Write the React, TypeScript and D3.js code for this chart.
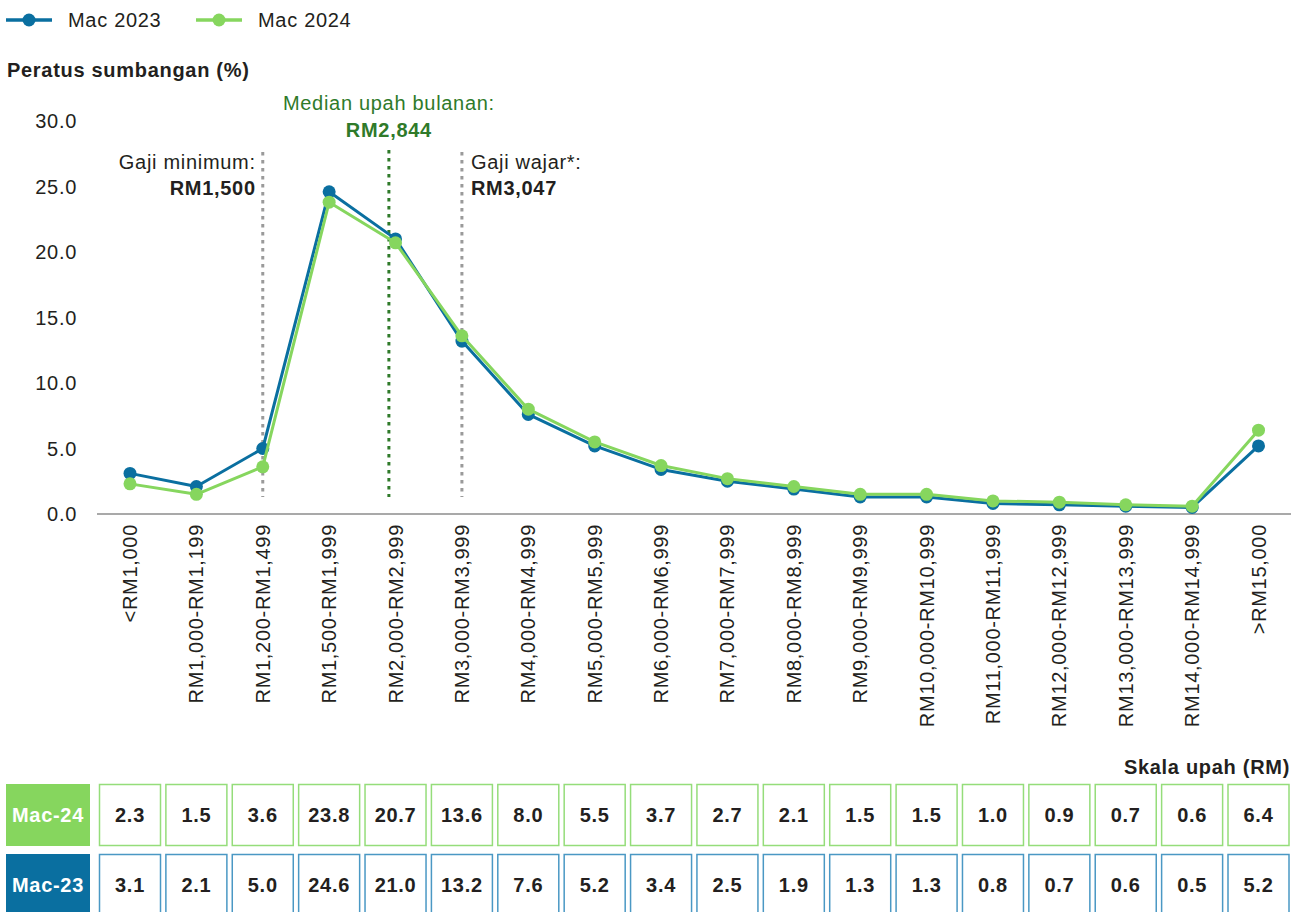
import React from "react";
import * as d3 from "d3";

const categories = [
  "<RM1,000", "RM1,000-RM1,199", "RM1,200-RM1,499", "RM1,500-RM1,999", "RM2,000-RM2,999",
  "RM3,000-RM3,999", "RM4,000-RM4,999", "RM5,000-RM5,999", "RM6,000-RM6,999", "RM7,000-RM7,999",
  "RM8,000-RM8,999", "RM9,000-RM9,999", "RM10,000-RM10,999", "RM11,000-RM11,999", "RM12,000-RM12,999",
  "RM13,000-RM13,999", "RM14,000-RM14,999", ">RM15,000",
];
const mac2024 = [2.3, 1.5, 3.6, 23.8, 20.7, 13.6, 8.0, 5.5, 3.7, 2.7, 2.1, 1.5, 1.5, 1.0, 0.9, 0.7, 0.6, 6.4];
const mac2023 = [3.1, 2.1, 5.0, 24.6, 21.0, 13.2, 7.6, 5.2, 3.4, 2.5, 1.9, 1.3, 1.3, 0.8, 0.7, 0.6, 0.5, 5.2];
const yTicks = [0, 5, 10, 15, 20, 25, 30];
const refLines = [
  { pos: 2, kind: "min", label: "Gaji minimum:", value: "RM1,500" },
  { pos: 3.9, kind: "median", label: "Median upah bulanan:", value: "RM2,844" },
  { pos: 5, kind: "wajar", label: "Gaji wajar*:", value: "RM3,047" },
];

const BLUE = "#0a6fa0";
const GREEN = "#86d65e";
const DARKGREEN = "#2f7a2a";
const TEXT = "#231f20";
const FONT = "'Liberation Sans', Arial, sans-serif";
const FS = 20;
const LS = 0.7;

export default function App() {
  const W = 1298, H = 912;
  const x = d3.scaleLinear().domain([0, categories.length - 1]).range([130, 1258.5]);
  const y = d3.scaleLinear().domain([0, 30]).range([514, 121]);
  const line = d3.line<number>().x((_, i) => x(i)).y((d) => y(d));

  const series = [
    { name: "Mac 2023", data: mac2023, color: BLUE },
    { name: "Mac 2024", data: mac2024, color: GREEN },
  ];

  const cellW = 61;
  const rows = [
    { label: "Mac-24", data: mac2024, fill: GREEN, border: "#95dd7a", top: 784 },
    { label: "Mac-23", data: mac2023, fill: BLUE, border: "#4a98c4", top: 854 },
  ];
  const rowH = 62;

  return (
    <svg width={W} height={H} style={{ position: "absolute", left: 0, top: 0, display: "block" }}
      fontFamily={FONT} fontSize={FS} letterSpacing={LS}>
      <rect width={W} height={H} fill="#fff" />
      {/* legend */}
      {series.map((s, i) => {
        const lx = 6 + i * 190;
        return (
          <g key={s.name}>
            <line x1={lx} x2={lx + 46} y1={20} y2={20} stroke={s.color} strokeWidth={3.5} />
            <circle cx={lx + 23} cy={20} r={6.5} fill={s.color} />
            <text x={lx + 62} y={27} fill={TEXT}>{s.name}</text>
          </g>
        );
      })}
      <text x={7} y={77} fontWeight="bold" fill={TEXT}>Peratus sumbangan (%)</text>

      {/* y ticks */}
      {yTicks.map((t) => (
        <text key={t} x={77} y={y(t) + 7} textAnchor="end" fill={TEXT}>{t.toFixed(1)}</text>
      ))}
      <line x1={97} x2={1291} y1={y(0)} y2={y(0)} stroke="#8c8c8c" strokeWidth={1.5} />

      {/* reference lines */}
      {refLines.map((r) => {
        const rx = x(r.pos);
        const isMed = r.kind === "median";
        return (
          <g key={r.kind}>
            <line x1={rx} x2={rx} y1={isMed ? 150 : 152} y2={497} stroke={isMed ? DARKGREEN : "#9a9a9a"}
              strokeWidth={3} strokeDasharray="3.5,4.5" />
            {isMed ? (
              <g>
                <text x={rx} y={110} textAnchor="middle" fill={DARKGREEN}>{r.label}</text>
                <text x={rx} y={137} fontWeight="bold" textAnchor="middle" fill={DARKGREEN}>{r.value}</text>
              </g>
            ) : r.kind === "min" ? (
              <g>
                <text x={rx - 7} y={169} textAnchor="end" fill={TEXT}>{r.label}</text>
                <text x={rx - 7} y={195} fontWeight="bold" textAnchor="end" fill={TEXT}>{r.value}</text>
              </g>
            ) : (
              <g>
                <text x={rx + 9} y={169} textAnchor="start" fill={TEXT}>{r.label}</text>
                <text x={rx + 9} y={195} fontWeight="bold" textAnchor="start" fill={TEXT}>{r.value}</text>
              </g>
            )}
          </g>
        );
      })}

      {/* series */}
      {series.map((s) => (
        <g key={s.name}>
          <path d={line(s.data) || ""} fill="none" stroke={s.color} strokeWidth={3} strokeLinejoin="round" />
          {s.data.map((v, i) => (
            <circle key={i} cx={x(i)} cy={y(v)} r={6.5} fill={s.color} />
          ))}
        </g>
      ))}

      {/* x labels */}
      {categories.map((c, i) => (
        <text key={c} transform={`translate(${x(i) + 7},${524}) rotate(-90)`}
          textAnchor="end" fill={TEXT}>{c}</text>
      ))}

      {/* table */}
      <text x={1290} y={774} fontWeight="bold" textAnchor="end" fill={TEXT}>Skala upah (RM)</text>
      {rows.map((r) => (
        <g key={r.label}>
          <rect x={6} y={r.top} width={84} height={rowH} fill={r.fill} />
          <text x={48} y={r.top + rowH / 2 + 7} fontWeight="bold" textAnchor="middle" fill="#fff">{r.label}</text>
          {r.data.map((v, i) => (
            <g key={i}>
              <rect x={x(i) - cellW / 2} y={r.top + 0.5} width={cellW} height={rowH - 1} fill="#fff"
                stroke={r.border} strokeWidth={1.5} />
              <text x={x(i)} y={r.top + rowH / 2 + 7} fontWeight="bold" textAnchor="middle" fill={TEXT}>
                {v.toFixed(1)}
              </text>
            </g>
          ))}
        </g>
      ))}
    </svg>
  );
}
